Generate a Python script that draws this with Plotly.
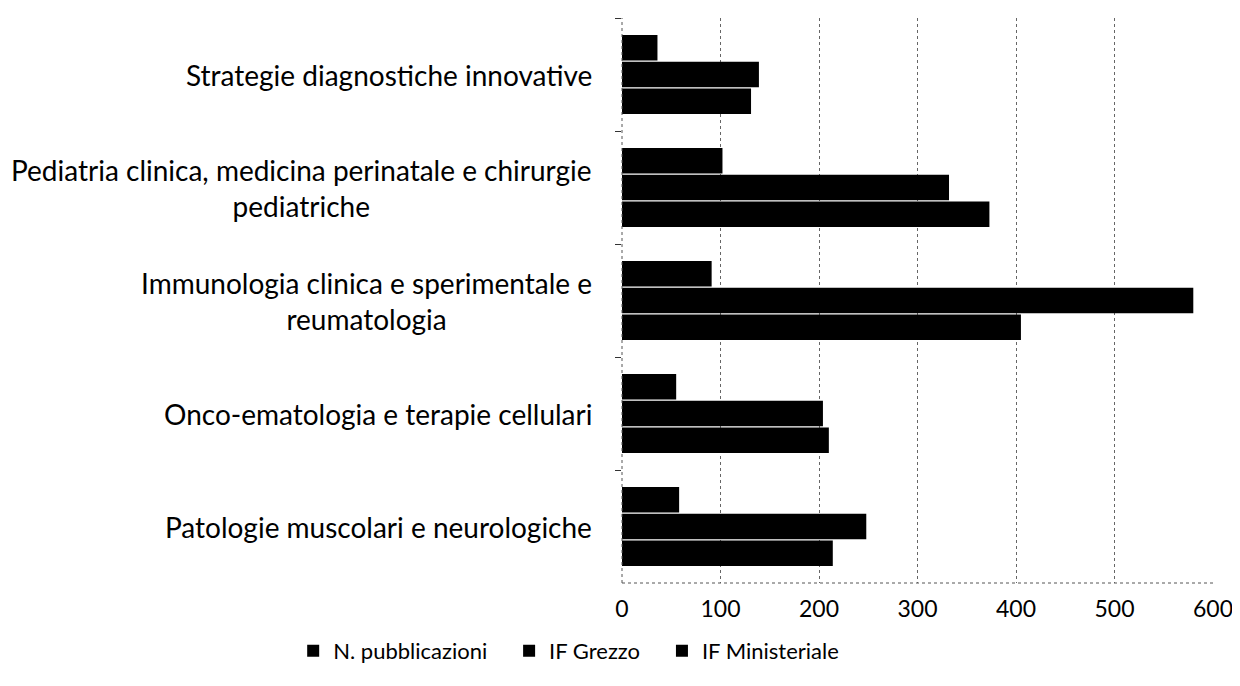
import plotly.graph_objects as go

categories = [
    "Strategie diagnostiche innovative",
    "Pediatria clinica, medicina perinatale e chirurgie<br>pediatriche",
    "Immunologia clinica e sperimentale e<br>reumatologia",
    "Onco-ematologia e terapie cellulari",
    "Patologie muscolari e neurologiche",
]
n_pubblicazioni = [36, 102, 91, 55, 58]
if_grezzo = [139, 332, 580, 204, 248]
if_ministeriale = [131, 373, 405, 210, 214]
x_ticks = [0, 100, 200, 300, 400, 500, 600]
legend_names = ["N. pubblicazioni", "IF Grezzo", "IF Ministeriale"]

FONT = "Lato, 'Liberation Sans', sans-serif"

fig = go.Figure()
for name, vals in zip(legend_names, [n_pubblicazioni, if_grezzo, if_ministeriale]):
    fig.add_trace(go.Bar(
        y=categories, x=vals, name=name + "   ", orientation="h",
        marker=dict(color="black", line=dict(width=0)),
    ))

for c in categories:
    fig.add_annotation(
        x=0, xref="paper", xanchor="right", xshift=-28,
        y=c, yref="y", yanchor="middle",
        text=c, showarrow=False, align="center",
        font=dict(family=FONT, size=28, color="black"),
    )

fig.add_shape(type="line", xref="paper", yref="paper", x0=0, x1=1, y0=0, y1=0,
              line=dict(color="#555", width=1, dash="dot"))
fig.add_shape(type="line", xref="paper", yref="paper", x0=0, x1=0, y0=0, y1=1,
              line=dict(color="#555", width=1, dash="dot"))

fig.update_layout(
    width=1232, height=664,
    paper_bgcolor="white", plot_bgcolor="white",
    margin=dict(l=614, r=27, t=10, b=89, autoexpand=False),
    barmode="group", bargap=0.29, bargroupgap=0.04,
    font=dict(family=FONT, size=24, color="black"),
    showlegend=True,
    legend=dict(orientation="h", x=0.462, xref="container", xanchor="center",
                y=0.0, yref="container", yanchor="bottom",
                font=dict(size=22), traceorder="normal", itemwidth=30),
    xaxis=dict(range=[0, 600], tickvals=x_ticks, showgrid=True,
               gridcolor="#666", griddash="dot", gridwidth=1,
               zeroline=False, showline=False, ticks="",
               ticklabelstandoff=10, tickfont=dict(size=23)),
    yaxis=dict(autorange="reversed", showticklabels=False, showgrid=False,
               zeroline=False, showline=False, ticks="outside",
               tickson="boundaries", ticklen=6, tickcolor="#333"),
)

fig.write_html("out.html")
